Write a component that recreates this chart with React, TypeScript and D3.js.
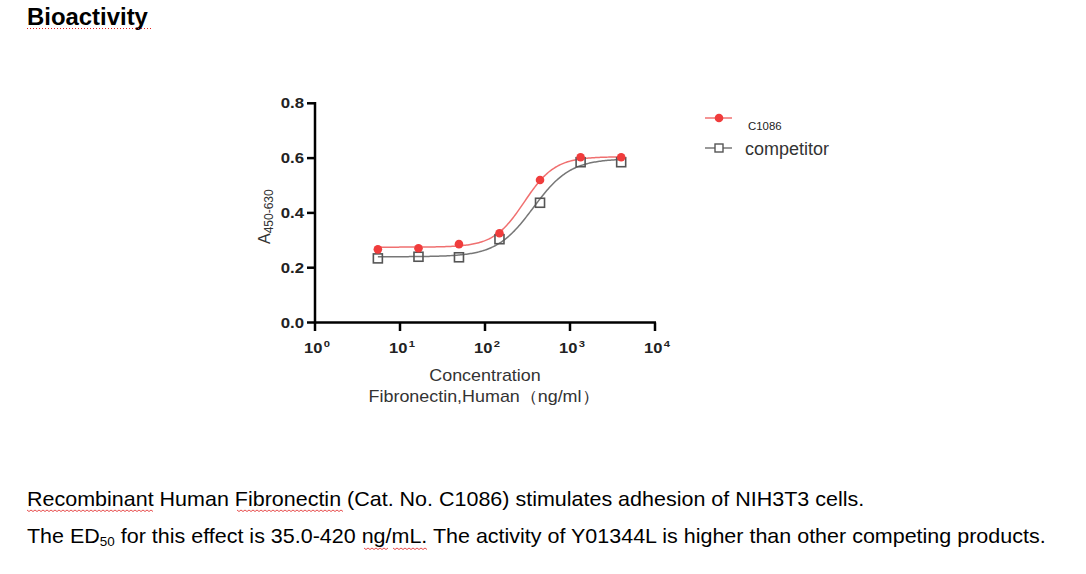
import React from "react";
import * as d3 from "d3";

// ---- data ----
const concentrations = [5.49, 16.5, 49.4, 148, 444, 1333, 4000];
const c1086Values = [0.267, 0.271, 0.286, 0.326, 0.52, 0.603, 0.603];
const competitorValues = [0.234, 0.24, 0.238, 0.304, 0.437, 0.585, 0.585];
// 4PL fit parameters: bottom, top, EC50, hill
const c1086Fit = [0.275, 0.605, 290, 2.4];
const competitorFit = [0.24, 0.598, 370, 2.0];
const yTicks = [0, 0.2, 0.4, 0.6, 0.8];
const xTickExps = [0, 1, 2, 3, 4];
const seriesNames = ["C1086", "competitor"];

const FONT = "'Liberation Sans', Arial, sans-serif";

function fitCurve(p: number[], x: number) {
  const [b, t, ec, h] = p;
  return b + (t - b) / (1 + Math.pow(ec / x, h));
}

function wave(x0: number, x1: number, yy: number) {
  const pts: string[] = [];
  let up = true;
  for (let xx = x0; xx <= x1; xx += 2) {
    pts.push(`${xx},${up ? yy : yy + 1.5}`);
    up = !up;
  }
  return "M" + pts.join(" L");
}

export default function App() {
  const x = d3.scaleLog().domain([1, 10000]).range([315, 655]);
  const y = d3.scaleLinear().domain([0, 0.8]).range([322.5, 103.3]);

  const lx0 = Math.log10(concentrations[0]);
  const lx1 = Math.log10(concentrations[concentrations.length - 1]);
  const xs = d3.range(0, 201).map((i) => Math.pow(10, lx0 + (i / 200) * (lx1 - lx0)));
  const redPath = d3
    .line<number>()
    .x((d) => x(d))
    .y((d) => y(fitCurve(c1086Fit, d)))(xs) as string;
  const grayPath = d3
    .line<number>()
    .x((d) => x(d))
    .y((d) => y(fitCurve(competitorFit, d)))(xs) as string;

  return (
    <svg width={1086} height={574} style={{ position: "absolute", left: 0, top: 0, background: "#fff" }}>
      <rect width={1086} height={574} fill="#fff" />
      {/* title */}
      <text transform="translate(27,25) scale(1.04,1)" fontFamily={FONT} fontSize={23} fontWeight="bold" fill="#000">
        Bioactivity
      </text>
      <line x1={27} x2={151} y1={28.5} y2={28.5} stroke="#e02020" strokeWidth={1} strokeDasharray="1,2" />

      {/* curves */}
      <path d={grayPath} fill="none" stroke="#777" strokeWidth={1.5} />
      <path d={redPath} fill="none" stroke="#f07070" strokeWidth={1.5} />

      {/* points */}
      {concentrations.map((c, i) => (
        <rect
          key={"s" + i}
          x={x(c) - 4.5}
          y={y(competitorValues[i]) - 4.5}
          width={9}
          height={9}
          fill="none"
          stroke="#555"
          strokeWidth={1.6}
        />
      ))}
      {concentrations.map((c, i) => (
        <circle key={"c" + i} cx={x(c)} cy={y(c1086Values[i])} r={4.3} fill="#f03c3c" />
      ))}

      {/* axes */}
      <line x1={315} x2={315} y1={102} y2={323.5} stroke="#000" strokeWidth={2.5} />
      <line x1={314} x2={656} y1={322.5} y2={322.5} stroke="#000" strokeWidth={2.5} />
      {yTicks.map((t) => (
        <g key={"yt" + t}>
          <line x1={307} x2={315} y1={y(t)} y2={y(t)} stroke="#000" strokeWidth={2.5} />
          <text
            transform={`translate(304,${y(t) + 5}) scale(1.2,1)`}
            textAnchor="end"
            fontFamily={FONT}
            fontSize={14}
            fontWeight="bold"
            fill="#222"
          >
            {t.toFixed(1)}
          </text>
        </g>
      ))}
      {xTickExps.map((e) => (
        <g key={"xt" + e}>
          <line x1={x(Math.pow(10, e))} x2={x(Math.pow(10, e))} y1={322.5} y2={331} stroke="#000" strokeWidth={2.5} />
          <text
            transform={`translate(${x(Math.pow(10, e)) + 2},353) scale(1.18,1)`}
            textAnchor="middle"
            fontFamily={FONT}
            fontSize={14}
            fontWeight="bold"
            fill="#222"
          >
            10
            <tspan dx={1} dy={-6} fontSize={9.5}>
              {e}
            </tspan>
          </text>
        </g>
      ))}

      {/* y axis label */}
      <text transform="translate(270,244) rotate(-90)" fontFamily={FONT} fontSize={16} fill="#333">
        A
        <tspan dy={3} fontSize={12}>
          450-630
        </tspan>
      </text>

      {/* x axis label */}
      <text transform="translate(485,381) scale(1.12,1)" textAnchor="middle" fontFamily={FONT} fontSize={16} fill="#333">
        Concentration
      </text>
      <text transform="translate(484,402) scale(1.12,1)" textAnchor="middle" fontFamily={FONT} fontSize={16} fill="#333">
        Fibronectin,Human（ng/ml）
      </text>

      {/* legend */}
      <line x1={705} x2={732} y1={118} y2={118} stroke="#f07070" strokeWidth={1.5} />
      <circle cx={719} cy={118} r={4.3} fill="#f03c3c" />
      <text x={748} y={130} fontFamily={FONT} fontSize={11.4} fill="#222">
        {seriesNames[0]}
      </text>
      <line x1={705} x2={732} y1={148} y2={148} stroke="#777" strokeWidth={1.5} />
      <rect x={715} y={144} width={8} height={8} fill="#fff" stroke="#555" strokeWidth={1.4} />
      <text x={745} y={155} fontFamily={FONT} fontSize={18} fill="#333">
        {seriesNames[1]}
      </text>

      {/* description */}
      <text transform="translate(27,506) scale(1.075,1)" fontFamily={FONT} fontSize={20} fill="#000">
        Recombinant Human Fibronectin (Cat. No. C1086) stimulates adhesion of NIH3T3 cells.
      </text>
      <path d={wave(27, 153, 510)} fill="none" stroke="#e02020" strokeWidth={0.8} />
      <path d={wave(237, 344, 510)} fill="none" stroke="#e02020" strokeWidth={0.8} />
      <text transform="translate(27,543) scale(1.075,1)" fontFamily={FONT} fontSize={20} fill="#000">
        The ED
        <tspan dy={3} fontSize={12.5}>
          50
        </tspan>
        <tspan dy={-3}> for this effect is 35.0-420 ng/mL. The activity of Y01344L is higher than other competing products.</tspan>
      </text>
      <path d={wave(364, 388, 548)} fill="none" stroke="#e02020" strokeWidth={0.8} />
      <path d={wave(393, 427, 548)} fill="none" stroke="#e02020" strokeWidth={0.8} />
    </svg>
  );
}
